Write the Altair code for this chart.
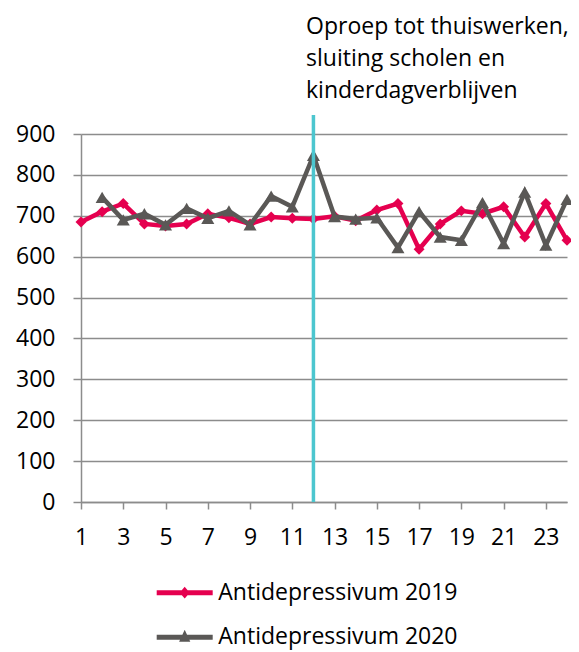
import altair as alt
import pandas as pd

# ---- data ----
weeks = list(range(1, 25))
v2019 = [685, 710, 730, 680, 675, 680, 705, 695, 680, 697, 694, 692,
         699, 688, 714, 730, 618, 680, 712, 705, 722, 648, 730, 640]
v2020 = [None, 745, 690, 705, 678, 718, 694, 712, 678, 748, 722, 848,
         698, 692, 695, 622, 710, 648, 640, 732, 632, 758, 628, 740]
label2019 = "Antidepressivum 2019"
label2020 = "Antidepressivum 2020"
x_ticks = list(range(1, 25))
y_ticks = list(range(0, 1000, 100))
event_week = [12]
annotation = ["Oproep tot thuiswerken,", "sluiting scholen en", "kinderdagverblijven"]

df19 = pd.DataFrame({"week": weeks, "value": v2019, "series": label2019})
df20 = pd.DataFrame({"week": weeks, "value": v2020, "series": label2020}).dropna()
df_evt = pd.DataFrame({"week": event_week})

FONT = "Open Sans"
FS = 23
PINK = "#E5004F"
GRAY = "#5A5856"
CYAN = "#4CC6CF"
GRID = "#8C8C8C"

x_enc = alt.X(
    "week:Q",
    scale=alt.Scale(domain=[1, 24], nice=False, zero=False),
    axis=alt.Axis(values=x_ticks, labelExpr="datum.value % 2 == 1 ? datum.label : ''",
                  title=None, grid=False, tickSize=7, labelPadding=17,
                  labelFlush=False, labelOverlap=False, labelBound=False),
)
y_enc = alt.Y(
    "value:Q",
    scale=alt.Scale(domain=[0, 900], nice=False),
    axis=alt.Axis(values=y_ticks, title=None, grid=True, tickSize=8, labelPadding=18,
                  labelBaseline="middle"),
)

PATH19 = "M-1,-0.09L1,-0.09L1,0.09L-1,0.09Z M0,-0.21L0.18,0L0,0.21L-0.18,0Z"
PATH20 = "M-1,-0.09L1,-0.09L1,0.09L-1,0.09Z M0,-0.27L0.2,0.16L-0.2,0.16Z"


def make_legend(path, ly):
    return alt.Legend(title=None, orient="none", legendX=75.7, legendY=ly,
                      symbolType=path, symbolSize=3136, symbolStrokeWidth=0,
                      symbolOpacity=1, labelFont=FONT, labelFontSize=FS,
                      labelColor="black", labelOffset=5.6, labelLimit=0, padding=0)


line19 = alt.Chart(df19).mark_line(color=PINK, strokeWidth=4.5).encode(x=x_enc, y=y_enc)
pts19 = alt.Chart(df19).mark_point(filled=True, shape="diamond", size=120, opacity=1).encode(
    x=x_enc, y=y_enc,
    color=alt.Color("series:N", scale=alt.Scale(domain=[label2019], range=[PINK]),
                    legend=make_legend(PATH19, 430.7)),
)
line20 = alt.Chart(df20).mark_line(color=GRAY, strokeWidth=4.5).encode(x=x_enc, y=y_enc)
pts20 = alt.Chart(df20).mark_point(filled=True, shape="triangle-up", size=170, opacity=1).encode(
    x=x_enc, y=y_enc,
    color=alt.Color("series:N", scale=alt.Scale(domain=[label2020], range=[GRAY]),
                    legend=make_legend(PATH20, 475.2)),
)

rule = alt.Chart(df_evt).mark_rule(color=CYAN, strokeWidth=3.5).encode(
    x=alt.X("week:Q"), y=alt.datum(0), y2=alt.value(-19)
)
text = alt.Chart(df_evt).mark_text(
    align="left", baseline="alphabetic", dx=-7.4, lineHeight=32,
    font=FONT, fontSize=FS, color="black", text=annotation,
).encode(x=alt.X("week:Q"), y=alt.value(-99.7))

chart = (
    alt.layer(line19, pts19, line20, pts20, rule, text)
    .resolve_scale(color="independent")
    .resolve_legend(color="independent")
    .properties(
        width=486, height=368,
        autosize=alt.AutoSizeParams(type="none"),
        padding={"left": 73, "top": 126, "right": 4, "bottom": 150},
    )
    .configure_view(stroke=None)
    .configure_axis(
        domainColor=GRID, tickColor=GRID, gridColor=GRID,
        domainWidth=1.5, tickWidth=1.5, gridWidth=1.5,
        labelFont=FONT, labelFontSize=FS, labelColor="black",
    )
)

chart.save("out.html", embed_options={"renderer": "svg", "actions": False})
